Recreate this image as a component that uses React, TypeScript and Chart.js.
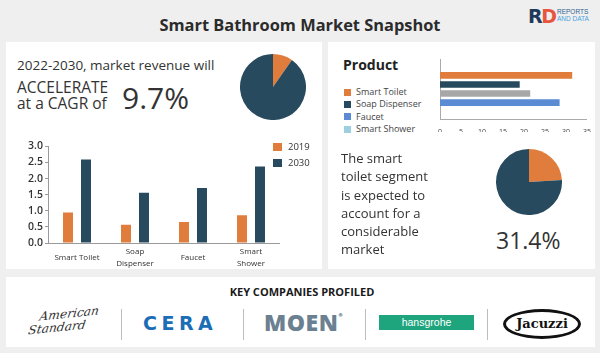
import React, { useEffect, useRef } from "react";
import { Chart, registerables } from "chart.js";

Chart.register(...registerables);

// ---------- data ----------
const barCategories = [["Smart Toilet"], ["Soap", "Dispenser"], ["Faucet"], ["Smart", "Shower"]];
const seriesNames = ["2019", "2030"];
const values2019 = [0.95, 0.57, 0.65, 0.86];
const values2030 = [2.59, 1.56, 1.71, 2.37];

const productLabels = ["Smart Toilet", "Soap Dispenser", "Faucet", "Smart Shower"];
const productShares = [31.4, 18.9, 21.4, 28.4];

const cagrSlices = [9.7, 90.3];
const toiletSlices = [24, 76];

const companies = ["American Standard", "CERA", "MOEN", "hansgrohe", "Jacuzzi"];

// ---------- styles ----------
const ORANGE = "#e07d3c";
const NAVY = "#284a5f";
const GRAY = "#a7a7a7";
const BLUE = "#5a8bd3";
const LIGHT = "#9dcfe0";
const FONT = "'Open Sans', sans-serif";
const legendColors = [ORANGE, NAVY, BLUE, LIGHT];
const productBarColors = [ORANGE, NAVY, GRAY, BLUE];

type TP = { x: number; y: number; size: number; weight?: number; color?: string; children: any; style?: any };
const T = ({ x, y, size, weight = 400, color = "#333", children, style }: TP) => (
  <div
    style={{
      position: "absolute",
      left: x,
      top: y - size * 0.7,
      fontSize: size,
      lineHeight: size * 1.4 + "px",
      fontWeight: weight,
      color,
      fontFamily: FONT,
      whiteSpace: "nowrap",
      ...style,
    }}
  >
    {children}
  </div>
);

const panel = (l: number, t: number, w: number, h: number) => ({
  position: "absolute" as const,
  left: l,
  top: t,
  width: w,
  height: h,
  background: "#ffffff",
});

export default function App() {
  const barRef = useRef<HTMLCanvasElement>(null);
  const hbarRef = useRef<HTMLCanvasElement>(null);
  const pie1Ref = useRef<HTMLCanvasElement>(null);
  const pie2Ref = useRef<HTMLCanvasElement>(null);

  useEffect(() => {
    const charts: Chart[] = [];
    const axisColor = "#9a9a9a";

    charts.push(
      new Chart(barRef.current!, {
        type: "bar",
        data: {
          labels: barCategories as any,
          datasets: [
            { label: seriesNames[0], data: values2019, backgroundColor: ORANGE, barPercentage: 0.556, categoryPercentage: 0.62 },
            { label: seriesNames[1], data: values2030, backgroundColor: NAVY, barPercentage: 0.556, categoryPercentage: 0.62 },
          ],
        },
        options: {
          animation: false,
          responsive: false,
          maintainAspectRatio: false,
          layout: { padding: { top: 8, right: 0, bottom: 0, left: 0 }, autoPadding: false } as any,
          plugins: { legend: { display: false }, tooltip: { enabled: false } },
          scales: {
            x: {
              grid: { display: false },
              border: { color: axisColor },
              ticks: {
                font: { family: FONT, size: 8, lineHeight: 1.45 },
                color: "#333",
                padding: 1,
                crossAlign: "center",
                maxRotation: 0,
                autoSkip: false,
              } as any,
              afterFit: (s: any) => {
                s.height = 25;
              },
            },
            y: {
              min: 0,
              max: 3,
              ticks: {
                stepSize: 0.5,
                callback: (v: any) => Number(v).toFixed(1),
                font: { family: FONT, size: 10.5, weight: "600" },
                color: "#333",
                padding: 2,
              },
              grid: { display: true, drawOnChartArea: false, tickLength: 3, color: axisColor },
              border: { color: axisColor },
              afterFit: (s: any) => {
                s.width = 38;
              },
            },
          },
        },
      })
    );

    charts.push(
      new Chart(hbarRef.current!, {
        type: "bar",
        data: {
          datasets: [
            {
              data: productShares.map((v, i) => ({ x: v, y: i })),
              backgroundColor: productBarColors,
              barThickness: 6,
            },
          ],
        },
        options: {
          indexAxis: "y",
          animation: false,
          responsive: false,
          maintainAspectRatio: false,
          layout: { padding: { top: 7, right: 5, bottom: 0, left: 0 }, autoPadding: false } as any,
          plugins: { legend: { display: false }, tooltip: { enabled: false } },
          scales: {
            x: {
              type: "linear",
              min: 0,
              max: 35,
              ticks: { stepSize: 5, font: { family: FONT, size: 7 }, color: "#444", padding: 1 },
              grid: { display: false },
              border: { color: "#aaa" },
              afterFit: (s: any) => {
                s.height = 13;
              },
            },
            y: {
              type: "linear",
              reverse: true,
              min: -0.98,
              max: 3.98,
              ticks: { display: false },
              grid: { display: false },
              border: { color: "#aaa" },
              afterFit: (s: any) => {
                s.width = 10;
              },
            },
          },
        },
      } as any)
    );

    const pie = (el: HTMLCanvasElement, data: number[]) =>
      new Chart(el, {
        type: "pie",
        data: {
          labels: ["share", "rest"],
          datasets: [{ data, backgroundColor: [ORANGE, NAVY], borderWidth: 0 }],
        },
        options: {
          animation: false,
          responsive: false,
          maintainAspectRatio: false,
          layout: { padding: 0 },
          plugins: { legend: { display: false }, tooltip: { enabled: false } },
        },
      });
    charts.push(pie(pie1Ref.current!, cagrSlices));
    charts.push(pie(pie2Ref.current!, toiletSlices));

    return () => charts.forEach((c) => c.destroy());
  }, []);

  return (
    <div style={{ position: "absolute", left: 0, top: 0, width: 600, height: 353, background: "#efefef", overflow: "hidden", fontFamily: FONT }}>
      {/* header */}
      <div style={{ position: "absolute", left: 0, top: 14, width: 600, textAlign: "center", fontSize: 16.4, fontWeight: 700, color: "#2b2b2b", lineHeight: "22px" }}>
        Smart Bathroom Market Snapshot
      </div>
      <div style={{ position: "absolute", left: 528, top: 6, height: 20, display: "flex", alignItems: "center" }}>
        <span style={{ fontFamily: "'DejaVu Sans', sans-serif", fontWeight: 900, fontSize: 19, color: "#1d3a5c", letterSpacing: -1.5, lineHeight: "20px" }}>R</span>
        <span style={{ fontFamily: "'DejaVu Sans', sans-serif", fontWeight: 900, fontSize: 19, color: "#e8553a", lineHeight: "20px" }}>D</span>
      </div>
      <div style={{ position: "absolute", left: 557, top: 8, fontFamily: "'Liberation Sans', sans-serif", fontSize: 6.5, lineHeight: "7px", color: "#2f5f8f" }}>
        REPORTS
        <br />
        <span style={{ color: "#4aa3df" }}>AND DATA</span>
      </div>

      {/* left panel */}
      <div style={panel(6, 42, 316, 227)} />
      <T x={17} y={65} size={13.5}>2022-2030, market revenue will</T>
      <T x={17} y={88} size={15.5}>ACCELERATE</T>
      <T x={17} y={104} size={15.5}>at a CAGR of</T>
      <T x={122} y={98} size={30}>9.7%</T>
      <canvas ref={pie1Ref} width={66} height={66} style={{ position: "absolute", left: 240, top: 54, width: 66, height: 66 }} />
      <canvas ref={barRef} width={270} height={130} style={{ position: "absolute", left: 10, top: 138, width: 270, height: 130 }} />
      {seriesNames.map((n, i) => (
        <React.Fragment key={n}>
          <div style={{ position: "absolute", left: 273, top: 143 + i * 16, width: 9, height: 8, background: i === 0 ? ORANGE : NAVY }} />
          <T x={288} y={147 + i * 16} size={9.5}>{n}</T>
        </React.Fragment>
      ))}

      {/* right panel */}
      <div style={panel(328, 42, 267, 227)} />
      <T x={343} y={65} size={14} weight={700} color="#222">Product</T>
      {productLabels.map((n, i) => (
        <React.Fragment key={n}>
          <div style={{ position: "absolute", left: 344, top: 89 + i * 12.2, width: 7, height: 7, background: legendColors[i] }} />
          <T x={356} y={92.5 + i * 12.2} size={9} color="#444">{n}</T>
        </React.Fragment>
      ))}
      <canvas ref={hbarRef} width={162} height={80} style={{ position: "absolute", left: 430, top: 52, width: 162, height: 80 }} />
      <div style={{ position: "absolute", left: 341, top: 149, fontSize: 13, lineHeight: "18.3px", color: "#333" }}>
        The smart
        <br />
        toilet segment
        <br />
        is expected to
        <br />
        account for a
        <br />
        considerable
        <br />
        market
      </div>
      <canvas ref={pie2Ref} width={66} height={66} style={{ position: "absolute", left: 496, top: 149, width: 66, height: 66 }} />
      <T x={496} y={240} size={23}>31.4%</T>

      {/* bottom panel */}
      <div style={panel(6, 277, 589, 70)} />
      <div style={{ position: "absolute", left: 0, top: 284, width: 604, textAlign: "center", fontSize: 11, fontWeight: 700, color: "#1a1a1a", lineHeight: "16px" }}>
        KEY COMPANIES PROFILED
      </div>
      {[121, 243, 365, 487].map((x) => (
        <div key={x} style={{ position: "absolute", left: x, top: 309, width: 1, height: 31, background: "#bdbdbd" }} />
      ))}
      <div style={{ position: "absolute", left: 30, top: 308, fontFamily: "'DejaVu Serif', serif", fontStyle: "italic", fontSize: 12, lineHeight: "13px", color: "#333", transform: "skewX(-14deg) rotate(-6deg)" }}>
        <div style={{ paddingLeft: 9 }}>American</div>
        <div>Standard</div>
      </div>
      <div style={{ position: "absolute", left: 143, top: 312, fontFamily: "'DejaVu Sans', sans-serif", fontWeight: 700, fontSize: 19, lineHeight: "22px", color: "#1b6db5", letterSpacing: 4.5 }}>
        {companies[1]}
      </div>
      <div style={{ position: "absolute", left: 264, top: 308, fontWeight: 800, fontSize: 23, lineHeight: "28px", color: "#6b8090", letterSpacing: 0.5 }}>
        {companies[2]}
        <span style={{ fontSize: 5, verticalAlign: "top", lineHeight: "14px" }}>®</span>
      </div>
      <div style={{ position: "absolute", left: 379, top: 315, width: 95, height: 15, background: "#1ea57d", color: "#fff", fontFamily: "'Liberation Sans', sans-serif", fontSize: 10.5, lineHeight: "15px", textAlign: "center" }}>
        {companies[3]}
      </div>
      <div style={{ position: "absolute", left: 503, top: 309, width: 72, height: 24, border: "3px solid #111", borderRadius: "50%", textAlign: "center", fontFamily: "'DejaVu Serif', serif", fontWeight: 700, fontSize: 13, lineHeight: "24px", color: "#111" }}>
        {companies[4]}
      </div>
    </div>
  );
}
